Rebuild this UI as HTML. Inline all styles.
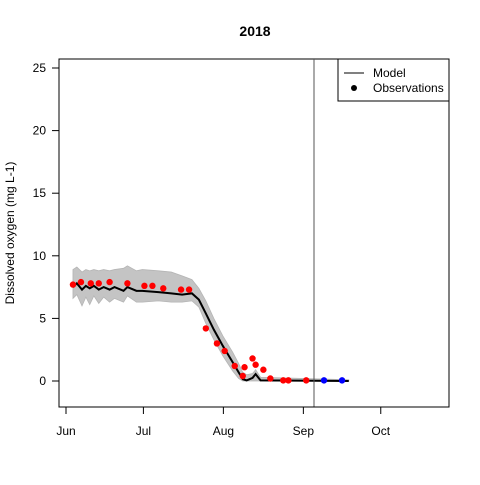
<!DOCTYPE html>
<html><head><meta charset="utf-8"><style>
body{margin:0;background:#fff}
svg{font-family:"Liberation Sans",Arial,sans-serif}
</style></head><body>
<svg id="chart" width="480" height="480">
<text x="255" y="36" font-size="14" font-weight="bold" text-anchor="middle">2018</text>
<text transform="translate(14,233) rotate(-90)" font-size="12" text-anchor="middle">Dissolved oxygen (mg L-1)</text>
<g id="band"></g>
<g id="marks"></g>
<rect x="59" y="59" width="390" height="348" fill="none" stroke="#000"/>
<line x1="314" y1="59" x2="314" y2="407" stroke="#555" stroke-width="1"/>
<g id="axes"></g>
<g>
<rect x="338" y="59" width="111" height="42" fill="#fff" stroke="#000"/>
<line x1="344" y1="73" x2="364" y2="73" stroke="#000"/>
<text x="373" y="77" font-size="12">Model</text>
<circle cx="354" cy="88" r="3" fill="#000"/>
<text x="373" y="92" font-size="12">Observations</text>
</g>
</svg>
<script>
const modelDays=[2.7,4.2,6.2,7.7,9.2,10.8,12.7,14.6,16.9,18.8,22.3,23.8,27.3,29.6,35.8,40.8,45,48.8,51.5,54.2,57.3,60.8,64.6,66.9,68.5,70,72.3,73.5,75.4,109.6];
const modelVals=[7.5,7.8,7.3,7.6,7.4,7.6,7.3,7.5,7.3,7.5,7.2,7.5,7.2,7.2,7.1,7.0,6.9,7.0,6.5,5.4,4.1,2.8,1.5,0.7,0.15,0.05,0.25,0.55,0.05,0];
const bandUpper=[8.9,9.1,8.7,8.9,8.8,8.9,8.8,8.9,8.8,8.9,9.0,9.2,8.8,8.9,8.8,8.7,8.4,8.1,7.4,6.4,5.0,3.6,2.3,1.4,0.7,0.5,0.6,0.9,0.3,0.1];
const bandLower=[6.6,6.9,6.0,6.7,6.1,6.8,6.2,6.7,6.3,6.6,6.3,6.8,6.3,6.3,6.4,6.3,6.3,6.4,5.9,4.6,3.3,2.0,0.8,0.2,0,0,0,0,0,0];
const obsDays=[2.7,5.8,9.6,12.7,16.9,23.8,30.4,33.5,37.7,44.6,47.7,54.2,58.5,61.5,65.4,68.5,69.2,72.3,73.5,76.5,79.2,84.2,86.2,93.1];
const obsVals=[7.7,7.9,7.8,7.8,7.9,7.8,7.6,7.6,7.4,7.3,7.3,4.2,3.0,2.4,1.2,0.4,1.1,1.8,1.3,0.9,0.2,0.05,0.05,0.05];
const fcDays=[100,107];
const fcVals=[0.05,0.05];
const xTickDays=[0,30,61,92,122];
const xTickLabels=["Jun","Jul","Aug","Sep","Oct"];
const yTicks=[0,5,10,15,20,25];

const NS="http://www.w3.org/2000/svg";
const X=d=>66+d*2.58;
const Y=v=>381-v*12.52;
function mk(t,a,p){const e=document.createElementNS(NS,t);for(const k in a)e.setAttribute(k,a[k]);p.appendChild(e);return e;}
const band=document.getElementById('band'),marks=document.getElementById('marks'),axes=document.getElementById('axes');
let pts=modelDays.map((d,i)=>X(d)+","+Y(bandUpper[i]));
for(let i=modelDays.length-1;i>=0;i--)pts.push(X(modelDays[i])+","+Y(bandLower[i]));
const poly=mk('polygon',{points:pts.join(' '),fill:'#c4c4c4',stroke:'#b5b5b5','stroke-width':0.8},band);


const line=mk('polyline',{points:modelDays.map((d,i)=>X(d)+","+Y(modelVals[i])).join(' '),fill:'none',stroke:'#000','stroke-width':2},marks);


obsDays.forEach((d,i)=>{const c=mk('circle',{cx:X(d),cy:Y(obsVals[i]),r:3.2,fill:'#ff0000'},marks);

});
fcDays.forEach((d,i)=>{const c=mk('circle',{cx:X(d),cy:Y(fcVals[i]),r:3.2,fill:'#0000ff'},marks);

});
mk('line',{x1:X(xTickDays[0]),x2:X(xTickDays[xTickDays.length-1]),y1:407,y2:407,stroke:'#000'},axes);
xTickDays.forEach((d,i)=>{mk('line',{x1:X(d),x2:X(d),y1:407,y2:414,stroke:'#000'},axes);
const t=mk('text',{x:X(d),y:435,'font-size':12,'text-anchor':'middle'},axes);t.textContent=xTickLabels[i];

});
yTicks.forEach(v=>{mk('line',{x1:52,x2:59,y1:Y(v),y2:Y(v),stroke:'#000'},axes);
const t=mk('text',{x:46,y:Y(v)+4,'font-size':12,'text-anchor':'end'},axes);t.textContent=v;

});
</script>
</body></html>
